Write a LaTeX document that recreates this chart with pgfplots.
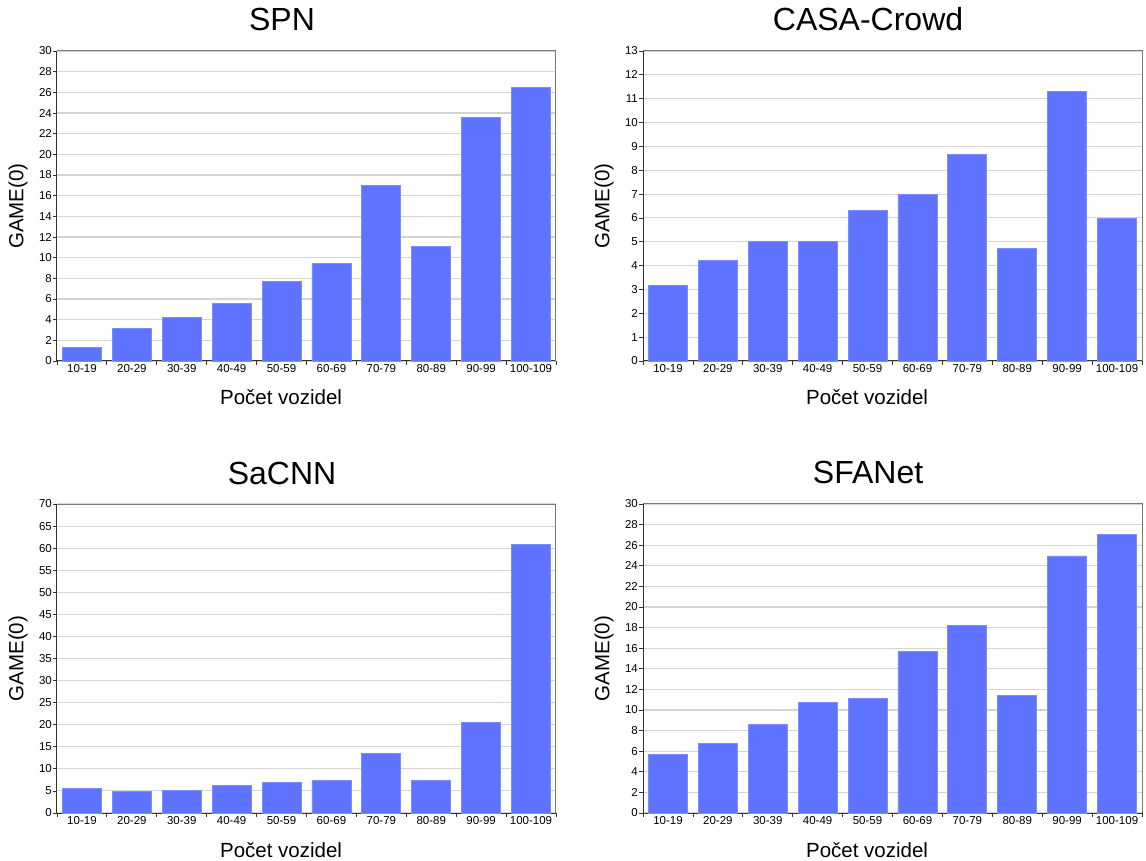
\documentclass[border=0pt]{standalone}
\usepackage{pgfplots}
\pgfplotsset{compat=1.18}
\usepackage{fontspec}
\setmainfont{Liberation Sans}
\definecolor{barblue}{RGB}{94,115,255}
\definecolor{baredge}{RGB}{125,140,255}
\definecolor{gridgray}{RGB}{212,212,212}
\definecolor{boxgray}{RGB}{120,120,120}
\definecolor{axdark}{RGB}{50,50,50}
\pgfplotsset{
  panel/.style={
    scale only axis, width=499pt, anchor=south west,
    xmin=-0.5, xmax=9.5, ymin=0,
    axis x line*=bottom, axis y line*=left,
    axis line style={draw=axdark, line width=1pt},
    xtick={-0.5,0.5,...,9.5}, xticklabels={},
    extra x ticks={0,1,2,3,4,5,6,7,8,9},
    extra x tick labels={10-19,20-29,30-39,40-49,50-59,60-69,70-79,80-89,90-99,100-109},
    extra x tick style={major tick length=0pt, grid=none},
    tick align=outside, major tick length=4pt,
    tick style={draw=axdark, line width=0.8pt},
    ymajorgrids, grid style={draw=gridgray, line width=1.1pt},
    /pgf/number format/assume math mode=true,
    tick label style={font=\fontsize{11.5}{13}\selectfont, text=black},
    yticklabel style={inner sep=1pt},
    label style={font=\fontsize{20.5}{24}\selectfont},
    xlabel={Počet vozidel},
    xlabel style={at={(axis description cs:0.449,0)}, anchor=base, yshift=-44pt},
    ylabel={GAME(0)},
    ylabel style={at={(axis description cs:-0.078,0.5)}, anchor=center},
    title style={font=\fontsize{32}{38}\selectfont, at={(axis description cs:0.451,1)}, anchor=base, yshift=14pt},
    ybar, bar width=0.78, bar shift=0pt,
    clip=false,
  },
  barsty/.style={fill=barblue, draw=baredge, line width=0.8pt},
}
\newcommand{\boxtr}{\draw[boxgray, line width=1pt] (rel axis cs:0,1) -- (rel axis cs:1,1) -- (rel axis cs:1,0);}
\begin{document}
\begin{tikzpicture}
\useasboundingbox (0,0) rectangle (1146pt,860pt);
\begin{axis}[panel, at={(57pt,499pt)}, height=310pt, ymax=30, ytick={0,2,...,30}, title={SPN}]
\addplot[barsty] coordinates {(0,1.35) (1,3.13) (2,4.25) (3,5.58) (4,7.67) (5,9.47) (6,16.98) (7,11.12) (8,23.59) (9,26.43)};
\boxtr
\end{axis}
\begin{axis}[panel, at={(643pt,499pt)}, height=310pt, ymax=13, ytick={0,1,...,13}, title={CASA-Crowd}]
\addplot[barsty] coordinates {(0,3.16) (1,4.22) (2,5.0) (3,5.01) (4,6.33) (5,7.0) (6,8.65) (7,4.71) (8,11.31) (9,5.99)};
\boxtr
\end{axis}
\begin{axis}[panel, at={(57pt,47pt)}, height=309pt, ymax=70, ytick={0,5,...,70}, title={SaCNN}]
\addplot[barsty] coordinates {(0,5.58) (1,4.9) (2,5.2) (3,6.26) (4,7.02) (5,7.32) (6,13.5) (7,7.47) (8,20.44) (9,60.8)};
\boxtr
\end{axis}
\begin{axis}[panel, at={(643pt,47pt)}, height=309pt, ymax=30, ytick={0,2,...,30}, title={SFANet}]
\addplot[barsty] coordinates {(0,5.66) (1,6.72) (2,8.57) (3,10.77) (4,11.12) (5,15.65) (6,18.17) (7,11.41) (8,24.96) (9,27.06)};
\boxtr
\end{axis}
\end{tikzpicture}
\end{document}
